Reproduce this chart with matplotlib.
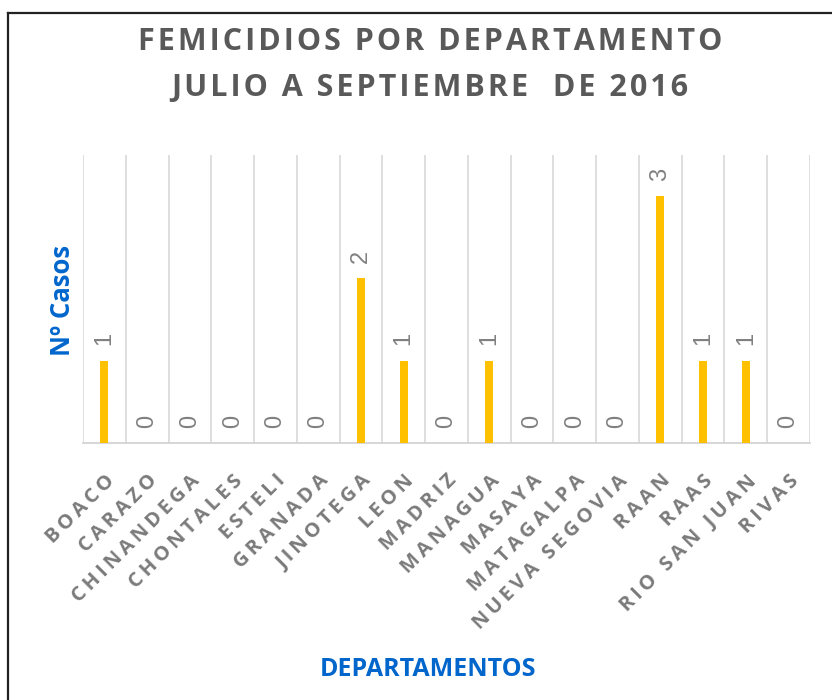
import matplotlib
matplotlib.use("Agg")
import matplotlib.pyplot as plt
from matplotlib.lines import Line2D

departamentos = ["BOACO", "CARAZO", "CHINANDEGA", "CHONTALES", "ESTELI", "GRANADA",
                 "JINOTEGA", "LEON", "MADRIZ", "MANAGUA", "MASAYA", "MATAGALPA",
                 "NUEVA SEGOVIA", "RAAN", "RAAS", "RIO SAN JUAN", "RIVAS"]
casos = [1, 0, 0, 0, 0, 0, 2, 1, 0, 1, 0, 0, 0, 3, 1, 1, 0]

title_lines = ["FEMICIDIOS POR DEPARTAMENTO", "JULIO A SEPTIEMBRE  DE 2016"]
xlabel_text = "DEPARTAMENTOS"
ylabel_text = "Nº Casos"

FAM = ["Open Sans", "DejaVu Sans"]


def spaced(s, sp="\u200a"):
    return sp.join(s)


W, H = 832, 700
fig = plt.figure(figsize=(W / 100, H / 100), dpi=100)
ax = fig.add_axes([83 / W, 1 - 443 / H, (810 - 83) / W, (443 - 155) / H])

x = list(range(len(departamentos)))
ax.bar(x, casos, width=0.19, color="#FFC000", zorder=3)

ax.set_xlim(-0.5, len(departamentos) - 0.5)
ax.set_ylim(0, 3.5)

for b in range(len(departamentos) + 1):
    ax.axvline(b - 0.5, color="#d9d9d9", lw=1.2, zorder=1)

for s in ["top", "right", "left"]:
    ax.spines[s].set_visible(False)
ax.spines["bottom"].set_color("#d0d0d0")
ax.spines["bottom"].set_linewidth(1.2)
ax.set_yticks([])
ax.set_xticks(x)
ax.set_xticklabels([spaced(d, "\u2009") for d in departamentos], rotation=45,
                   ha="right", va="top", rotation_mode="anchor", fontsize=14.5,
                   fontweight="bold", color="#7a7a7a", family=FAM)
ax.tick_params(axis="x", length=0, pad=20)

for xi, v in zip(x, casos):
    ax.annotate(str(v), (xi, v), xytext=(0, 11), textcoords="offset points",
                rotation=90, ha="center", va="bottom", fontsize=17,
                color="#808080", family="Liberation Sans")

fig.text(430 / W, 1 - 42 / H, spaced(title_lines[0]), ha="center", va="center",
         fontsize=22, fontweight="bold", color="#595959", family=FAM)
fig.text(430 / W, 1 - 88 / H, spaced(title_lines[1]), ha="center", va="center",
         fontsize=22, fontweight="bold", color="#595959", family=FAM)
fig.text(428 / W, 1 - 670 / H, xlabel_text, ha="center", va="center",
         fontsize=18, fontweight="bold", color="#0066CC", family=FAM)
fig.text(62 / W, 1 - 300 / H, ylabel_text, ha="center", va="center",
         rotation=90, fontsize=18.5, fontweight="bold", color="#0066CC",
         family=FAM)

fig.add_artist(Line2D([8 / W, 8 / W], [0, 1 - 13 / H], transform=fig.transFigure,
                      color="#222222", lw=1.6))
fig.add_artist(Line2D([8 / W, 1], [1 - 13 / H, 1 - 13 / H], transform=fig.transFigure,
                      color="#222222", lw=1.6))

fig.savefig("out.png", dpi=100, facecolor="white")
